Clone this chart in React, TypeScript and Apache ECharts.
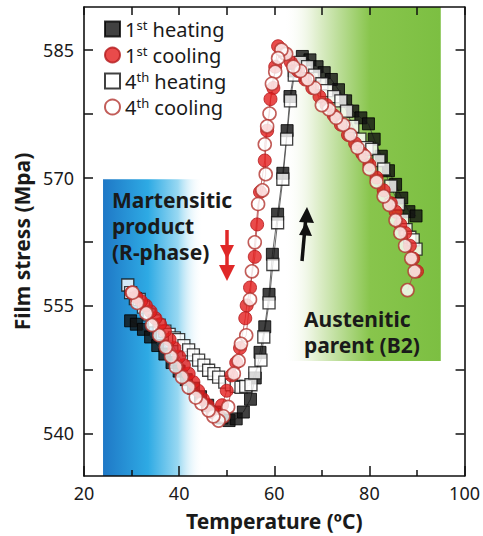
import React, { useEffect, useRef } from "react";
import * as echarts from "echarts";

// Axis ranges and tick positions
const tempRange = [20, 100];
const stressRange = [535, 590];
const xLabelStep = 20;
const yLabelValues = [540, 555, 570, 585];
const yTickValues = [540, 547.5, 555, 562.5, 570, 577.5, 585];

// Shaded phase regions: [tStart, tEnd, sLow, sHigh]
const martensiteBand = [24, 45, 535, 569.8];
const austeniteBand = [62, 95, 548.5, 590];

// Film stress (MPa) versus temperature (°C), [T, S]
const firstHeating: [number, number][] = [
  [29.8, 553.2], [31.0, 552.8], [32.5, 552.2], [34.0, 551.3], [35.5, 550.3],
  [37.0, 549.3], [38.5, 548.3], [40.0, 547.3], [41.5, 546.3], [43.0, 545.3],
  [44.5, 544.3], [46.0, 543.3], [47.5, 542.5], [49.0, 541.8], [50.5, 541.5],
  [52.0, 541.7], [53.5, 542.5], [55.0, 544.0], [56.0, 546.5], [57.0, 549.5],
  [58.0, 552.5], [58.9, 556.3], [59.6, 561.0], [60.7, 565.7], [61.8, 570.5],
  [62.7, 575.5], [63.3, 579.5], [64.2, 582.5], [65.9, 584.2], [67.5, 583.8],
  [69.0, 583.0], [70.5, 582.3], [72.0, 581.5], [73.5, 580.3], [75.0, 579.0],
  [76.5, 577.8], [78.2, 577.0], [79.8, 576.3], [81.0, 574.5], [82.5, 572.5],
  [84.0, 570.8], [85.5, 569.2], [86.8, 567.6], [88.3, 566.0], [89.8, 565.5],
];

const fourthHeating: [number, number][] = [
  [29.2, 557.4], [29.8, 556.5], [30.8, 555.8], [31.6, 555.7], [32.5, 554.8],
  [33.7, 553.9], [34.8, 553.2], [35.8, 552.7], [37.0, 552.0], [37.9, 551.6],
  [39.0, 551.2], [39.9, 551.0], [41.0, 550.3], [42.0, 549.8], [43.0, 549.2],
  [44.1, 548.6], [45.2, 548.0], [46.2, 547.4], [47.3, 547.0], [48.3, 546.6],
  [49.6, 546.0], [51.0, 545.7], [52.0, 545.5], [53.0, 545.4], [54.0, 545.5],
  [55.1, 545.7], [55.9, 547.1], [57.2, 548.6], [57.8, 551.3], [58.9, 555.3],
  [59.7, 559.8], [60.7, 564.7], [61.8, 569.8], [62.6, 574.5], [63.4, 579.0],
  [64.2, 582.0], [65.5, 583.5], [67.0, 583.0], [68.5, 582.0], [70.0, 581.0],
  [71.0, 580.2], [72.5, 579.5], [74.0, 579.0], [75.2, 577.8], [76.5, 576.0],
  [78.0, 574.5], [79.5, 573.5], [80.5, 573.3], [82.0, 572.0], [83.0, 571.0],
  [84.5, 569.0], [86.1, 566.9], [87.0, 565.0], [87.7, 563.9], [88.5, 563.0],
  [89.2, 562.7], [89.8, 561.6],
];

const firstCooling: [number, number][] = [
  [90.0, 559.0], [89.2, 560.5], [88.5, 562.0], [87.5, 563.5], [86.5, 564.5],
  [85.5, 566.0], [84.5, 567.0], [83.0, 568.5], [81.5, 570.0], [80.0, 571.5],
  [78.5, 572.8], [77.0, 574.0], [75.5, 575.0], [74.0, 576.2],
  [72.5, 577.3], [71.0, 578.5], [69.5, 579.5], [68.0, 580.5], [66.5, 581.5],
  [65.0, 582.5], [63.5, 583.5], [62.2, 584.5], [60.8, 585.4], [60.2, 583.0],
  [59.8, 580.5], [59.2, 579.2], [58.5, 575.5], [58.0, 572.0], [57.0, 568.3],
  [56.4, 564.5], [55.9, 560.7], [54.9, 557.1], [54.2, 555.0], [53.9, 553.5],
  [52.8, 550.0], [52.0, 548.3], [51.0, 546.8], [50.0, 545.0], [49.0, 543.3],
  [48.0, 542.2], [47.0, 542.5], [46.0, 543.3], [45.0, 544.0], [44.0, 545.0],
  [43.0, 546.0], [42.0, 547.0], [41.0, 548.0], [40.0, 549.0], [39.0, 550.0],
  [38.0, 551.0], [37.0, 552.0], [36.0, 552.8], [35.0, 553.5], [34.0, 554.3],
  [33.0, 555.0], [32.0, 555.5], [31.0, 556.0], [30.0, 556.5],
];

const fourthCooling: [number, number][] = [
  [88.0, 556.8], [89.5, 559.0], [88.8, 560.5], [87.5, 562.0], [86.5, 563.5],
  [85.5, 565.0], [84.2, 566.8], [83.0, 567.8], [81.5, 569.5], [80.0, 571.0],
  [79.0, 572.5], [77.5, 573.5], [76.0, 575.0], [74.5, 576.2], [73.0, 577.0],
  [71.5, 578.0], [70.0, 578.5], [68.5, 580.5], [67.0, 581.5], [65.5, 582.5],
  [64.0, 583.0], [62.5, 584.5], [61.5, 585.0], [60.8, 584.0], [60.2, 582.4],
  [59.5, 581.0], [59.0, 577.5], [58.5, 576.0], [58.0, 573.9], [58.2, 570.4],
  [57.5, 568.5], [56.6, 566.9], [55.9, 562.4], [55.3, 559.0], [54.9, 555.7],
  [54.1, 551.5], [53.0, 550.5], [52.5, 548.5], [51.5, 547.0], [50.3, 543.1],
  [49.3, 542.0], [48.3, 541.5], [47.2, 542.0], [46.2, 542.7], [44.7, 543.5],
  [43.5, 544.2], [42.0, 545.4], [40.6, 546.6], [39.3, 547.8], [38.3, 549.0],
  [37.2, 550.1], [35.8, 551.5], [34.3, 552.7], [33.1, 554.1], [31.2, 555.3],
  [30.2, 556.5],
];

const seriesNames = ["1st heating", "1st cooling", "4th heating", "4th cooling"];

const FONT = '"Noto Sans", "Open Sans", sans-serif';
const INK = "#1a1a1a";

export default function App() {
  const ref = useRef<HTMLDivElement>(null);

  useEffect(() => {
    if (!ref.current) return;
    const chart = echarts.init(ref.current, null, { renderer: "svg" });

    const axisLine = { show: true, lineStyle: { color: "#111", width: 1.6 } };
    const tickStyle = { color: "#111", width: 1.5 };

    const styles: Record<string, any> = {
      "1st heating": { symbol: "rect", size: 12, item: { color: "#111", borderColor: "#000", borderWidth: 1 }, line: "#444" },
      "4th heating": { symbol: "rect", size: 12, item: { color: "#fff", borderColor: "#111", borderWidth: 1.3 }, line: "#444" },
      "1st cooling": { symbol: "circle", size: 13, item: { color: "#e41e1e", borderColor: "#b3191b", borderWidth: 1 }, line: "#b04040" },
      "4th cooling": { symbol: "circle", size: 13, item: { color: "#fff", borderColor: "#b3342f", borderWidth: 1.6 }, line: "#b04040" },
    };
    const dataByName: Record<string, [number, number][]> = {
      "1st heating": firstHeating,
      "4th heating": fourthHeating,
      "1st cooling": firstCooling,
      "4th cooling": fourthCooling,
    };
    const drawOrder = ["1st heating", "4th heating", "1st cooling", "4th cooling"];

    const connectors = drawOrder.map((n) => ({
      type: "line",
      data: dataByName[n],
      symbol: "none",
      silent: true,
      z: 2,
      lineStyle: { color: styles[n].line, width: 0.8 },
    }));

    const markers = drawOrder.map((n, i) => ({
      type: "scatter",
      name: n,
      data: dataByName[n],
      symbol: styles[n].symbol,
      symbolSize: styles[n].size,
      itemStyle: styles[n].item,
      z: 3 + i,
    }));

    const bands = {
      type: "line",
      data: [],
      silent: true,
      z: 1,
      markArea: {
        silent: true,
        data: [
          [
            {
              xAxis: martensiteBand[0],
              yAxis: martensiteBand[2],
              itemStyle: {
                color: new echarts.graphic.LinearGradient(0, 0, 1, 0, [
                  { offset: 0, color: "#1f78c6" },
                  { offset: 0.45, color: "#2eaae4" },
                  { offset: 0.75, color: "#98d8f2" },
                  { offset: 1, color: "rgba(255,255,255,0)" },
                ]),
              },
            },
            { xAxis: martensiteBand[1], yAxis: martensiteBand[3] },
          ],
          [
            {
              xAxis: austeniteBand[0],
              yAxis: austeniteBand[2],
              itemStyle: {
                color: new echarts.graphic.LinearGradient(0, 0, 1, 0, [
                  { offset: 0, color: "rgba(255,255,255,0)" },
                  { offset: 0.2, color: "#e3f0d2" },
                  { offset: 0.55, color: "#88c54c" },
                  { offset: 1, color: "#7cbf42" },
                ]),
              },
            },
            { xAxis: austeniteBand[1], yAxis: austeniteBand[3] },
          ],
        ],
      },
    };

    const legendIcons: Record<string, string> = {
      "1st heating": "rect",
      "1st cooling": "circle",
      "4th heating": "rect",
      "4th cooling": "circle",
    };

    chart.setOption({
      animation: false,
      backgroundColor: "#ffffff",
      grid: { left: 84, right: 14, top: 7, bottom: 60, containLabel: false },
      legend: {
        orient: "vertical",
        left: 99,
        top: 13,
        itemWidth: 15,
        itemHeight: 15,
        itemGap: 5,
        data: seriesNames.map((n) => ({ name: n, icon: legendIcons[n] })),
        formatter: (name: string) => {
          const m = name.match(/^(\d)(st|th) (.*)$/);
          return m ? `${m[1]}{sup|${m[2]}} ${m[3]}` : name;
        },
        textStyle: {
          fontSize: 20,
          color: INK,
          fontFamily: FONT,
          padding: [0, 0, 0, 0],
          rich: {
            sup: { fontSize: 13, verticalAlign: "top", color: INK, fontFamily: FONT, padding: [0, 0, 9, 0] },
          },
        },
      },
      xAxis: [
        {
          type: "value",
          position: "bottom",
          min: tempRange[0],
          max: tempRange[1],
          interval: xLabelStep,
          z: 6,
          axisLine,
          axisTick: { show: true, inside: true, length: 10, lineStyle: tickStyle },
          minorTick: { show: true, splitNumber: 2, length: 6, lineStyle: tickStyle },
          axisLabel: { fontSize: 18, color: INK, margin: 8, fontFamily: FONT },
          splitLine: { show: false },
          name: "Temperature (ºC)",
          nameLocation: "middle",
          nameGap: 34,
          nameTextStyle: { fontSize: 21, fontWeight: "bold", color: INK, fontFamily: FONT },
        },
        {
          type: "value",
          position: "top",
          min: tempRange[0],
          max: tempRange[1],
          interval: 10,
          z: 6,
          axisLine,
          axisTick: { show: true, inside: true, length: 8, lineStyle: tickStyle },
          axisLabel: { show: false },
          splitLine: { show: false },
        },
      ],
      yAxis: [
        {
          type: "value",
          position: "left",
          min: stressRange[0],
          max: stressRange[1],
          z: 6,
          axisLine,
          axisTick: { show: true, inside: true, length: 9, lineStyle: tickStyle, customValues: yTickValues },
          axisLabel: { fontSize: 18, color: INK, margin: 10, fontFamily: FONT, customValues: yLabelValues },
          splitLine: { show: false },
          name: "Film stress (Mpa)",
          nameLocation: "middle",
          nameGap: 46,
          nameTextStyle: { fontSize: 21, fontWeight: "bold", color: INK, fontFamily: FONT },
        },
        {
          type: "value",
          position: "right",
          min: stressRange[0],
          max: stressRange[1],
          z: 6,
          axisLine,
          axisTick: { show: true, inside: true, length: 9, lineStyle: tickStyle, customValues: yTickValues },
          axisLabel: { show: false },
          splitLine: { show: false },
        },
      ],
      series: [bands, ...connectors, ...markers],
      graphic: [
        {
          type: "text",
          left: 112,
          top: 187,
          z: 20,
          style: { text: "Martensitic\nproduct\n(R-phase)", font: `bold 21px ${FONT}`, fill: INK, lineHeight: 26 },
        },
        {
          type: "text",
          left: 304,
          top: 306,
          z: 20,
          style: { text: "Austenitic\nparent (B2)", font: `bold 21px ${FONT}`, fill: INK, lineHeight: 26 },
        },
        // red arrow pointing down (cooling)
        { type: "line", z: 20, shape: { x1: 227, y1: 230, x2: 227, y2: 272 }, style: { stroke: "#e02828", lineWidth: 3.5 } },
        { type: "polygon", z: 20, shape: { points: [[220, 245], [234, 245], [227, 259]] }, style: { fill: "#e02828" } },
        { type: "polygon", z: 20, shape: { points: [[219, 265], [235, 265], [227, 281]] }, style: { fill: "#e02828" } },
        // black arrow pointing up (heating)
        { type: "line", z: 20, shape: { x1: 302, y1: 261, x2: 306, y2: 216 }, style: { stroke: "#111", lineWidth: 3.5 } },
        { type: "polygon", z: 20, shape: { points: [[299, 235], [312, 236], [306, 222]] }, style: { fill: "#111" } },
        { type: "polygon", z: 20, shape: { points: [[299, 222], [314, 223], [307, 207]] }, style: { fill: "#111" } },
      ],
    });

    return () => chart.dispose();
  }, []);

  return (
    <div
      ref={ref}
      style={{ position: "fixed", left: 0, top: 0, width: 483, height: 536 }}
    />
  );
}
